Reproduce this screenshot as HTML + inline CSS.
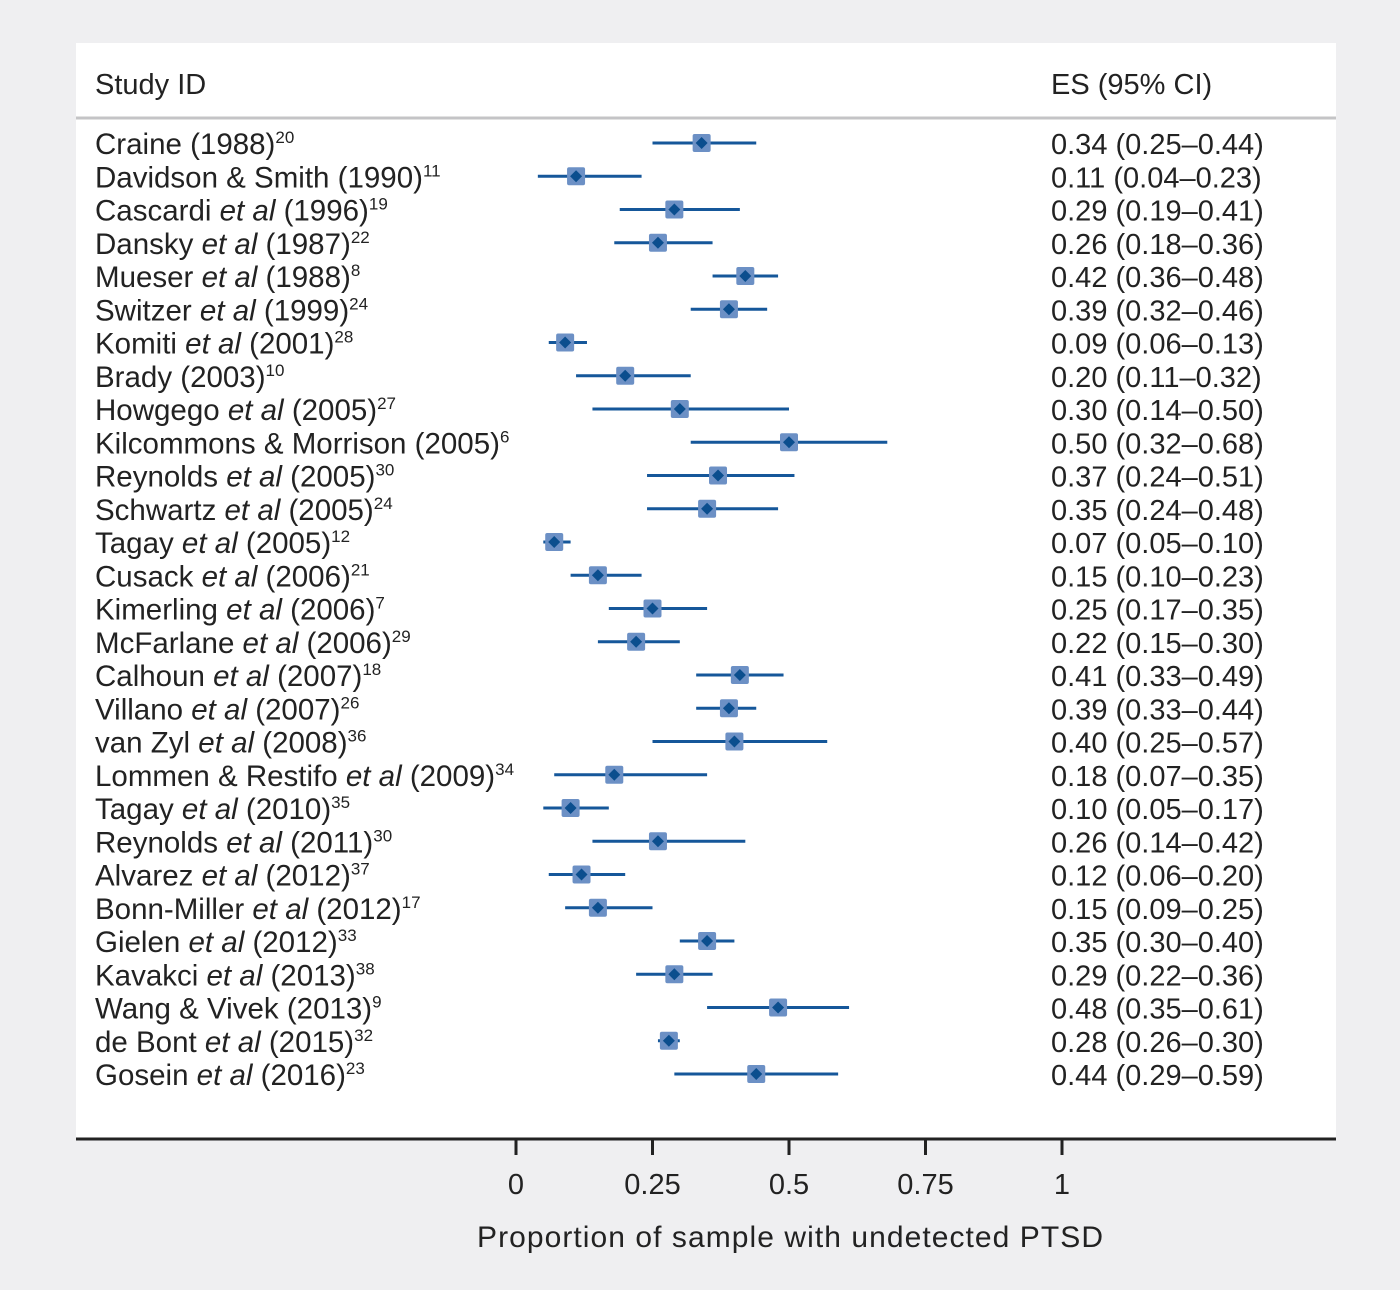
<!DOCTYPE html>
<html><head><meta charset="utf-8"><style>
body{margin:0;background:#efeff1;}
svg{display:block;font-family:"Liberation Sans",sans-serif;}
</style></head><body>
<svg id="chart" width="1400" height="1290" viewBox="0 0 1400 1290">
<rect x="0" y="0" width="1400" height="1290" fill="#efeff1"/>
<rect x="76" y="43" width="1260" height="1096" fill="#ffffff"/>
<text x="95" y="94" font-size="29" fill="#222">Study ID</text>
<text x="1051" y="94" font-size="29" fill="#222">ES (95% CI)</text>
<line x1="76" y1="118" x2="1336" y2="118" stroke="#c4c4c6" stroke-width="3"/>
<line x1="76" y1="1139" x2="1336" y2="1139" stroke="#222" stroke-width="3"/>
<g id="rows"></g>
<g id="axis"></g>
<text x="790" y="1247" font-size="30" fill="#222" text-anchor="middle" textLength="626">Proportion of sample with undetected PTSD</text>
</svg>
<script>
const authors = ["Craine","Davidson & Smith","Cascardi","Dansky","Mueser","Switzer","Komiti","Brady","Howgego","Kilcommons & Morrison","Reynolds","Schwartz","Tagay","Cusack","Kimerling","McFarlane","Calhoun","Villano","van Zyl","Lommen & Restifo","Tagay","Reynolds","Alvarez","Bonn-Miller","Gielen","Kavakci","Wang & Vivek","de Bont","Gosein"];
const etal = [0,0,1,1,1,1,1,0,1,0,1,1,1,1,1,1,1,1,1,1,1,1,1,1,1,1,0,1,1];
const years = ["1988","1990","1996","1987","1988","1999","2001","2003","2005","2005","2005","2005","2005","2006","2006","2006","2007","2007","2008","2009","2010","2011","2012","2012","2012","2013","2013","2015","2016"];
const refs = ["20","11","19","22","8","24","28","10","27","6","30","24","12","21","7","29","18","26","36","34","35","30","37","17","33","38","9","32","23"];
const es = [0.34,0.11,0.29,0.26,0.42,0.39,0.09,0.20,0.30,0.50,0.37,0.35,0.07,0.15,0.25,0.22,0.41,0.39,0.40,0.18,0.10,0.26,0.12,0.15,0.35,0.29,0.48,0.28,0.44];
const lo = [0.25,0.04,0.19,0.18,0.36,0.32,0.06,0.11,0.14,0.32,0.24,0.24,0.05,0.10,0.17,0.15,0.33,0.33,0.25,0.07,0.05,0.14,0.06,0.09,0.30,0.22,0.35,0.26,0.29];
const hi = [0.44,0.23,0.41,0.36,0.48,0.46,0.13,0.32,0.50,0.68,0.51,0.48,0.10,0.23,0.35,0.30,0.49,0.44,0.57,0.35,0.17,0.42,0.20,0.25,0.40,0.36,0.61,0.30,0.59];
const ticks = [0,0.25,0.5,0.75,1];
const tickLabels = ["0","0.25","0.5","0.75","1"];

const NS="http://www.w3.org/2000/svg";
const xScale = v => 516 + v*546;
const yScale = i => 143 + i*33.25;
const f2 = v => v.toFixed(2);
function mk(tag, attrs, parent){const e=document.createElementNS(NS,tag);for(const k in attrs)e.setAttribute(k,attrs[k]);parent.appendChild(e);return e;}
const rows=document.getElementById('rows');
es.forEach((v,i)=>{
  const y=yScale(i);
  const g=mk('g',{},rows);
  
  
  const t=mk('text',{x:95,y:y+11,'font-size':29.5,fill:'#222'},g);
  
  
  const a=mk('tspan',{},t); a.textContent=authors[i]+' ';
  if(etal[i]){const it=mk('tspan',{'font-style':'italic'},t); it.textContent='et al ';}
  const yr=mk('tspan',{},t); yr.textContent='('+years[i]+')';
  const sp=mk('tspan',{'font-size':17,dy:-11},t); sp.textContent=refs[i];
  const ci=mk('line',{x1:xScale(lo[i]),x2:xScale(hi[i]),y1:y,y2:y,stroke:'#15579a','stroke-width':3},g);
  
  
  const sq=mk('rect',{x:xScale(v)-9,y:y-9,width:18,height:18,rx:2,fill:'#6c90c5'},g);
  
  
  const cx=xScale(v);
  const d=mk('polygon',{points:`${cx-6},${y} ${cx},${y-6} ${cx+6},${y} ${cx},${y+6}`,fill:'#0b4e8e'},g);
  
  
  const r=mk('text',{x:1051,y:y+11,'font-size':29,fill:'#222'},g);
  
  
  r.textContent=f2(v)+' ('+f2(lo[i])+'\u2013'+f2(hi[i])+')';
});
const ax=document.getElementById('axis');
ticks.forEach((t,i)=>{
  const x=xScale(t);
  const l=mk('line',{x1:x,x2:x,y1:1139,y2:1155,stroke:'#222','stroke-width':3},ax);
  
  
  const tx=mk('text',{x:x,y:1194,'font-size':29,fill:'#222','text-anchor':'middle'},ax);
  
  
  tx.textContent=tickLabels[i];
});
</script>
</body></html>
